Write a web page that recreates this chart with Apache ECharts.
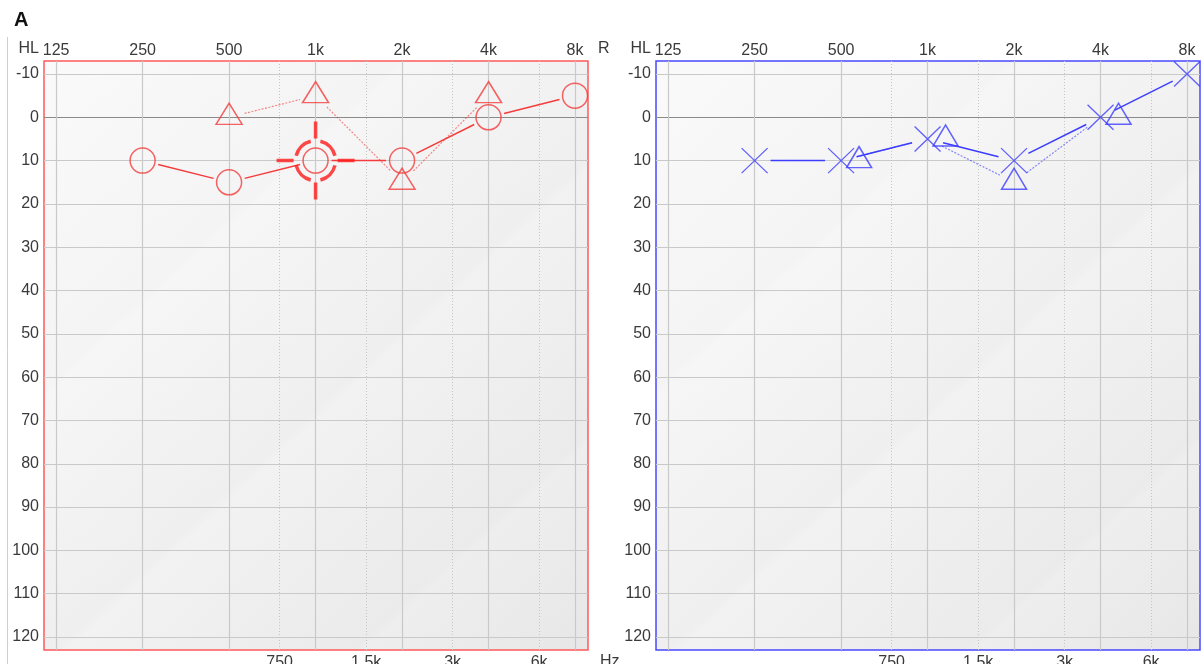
<!DOCTYPE html>
<html><head><meta charset="utf-8">
<script src="https://cdn.jsdelivr.net/npm/echarts@6/dist/echarts.min.js"></script>
<style>html,body{margin:0;padding:0;background:#fff}#c{width:1202px;height:664px}</style>
</head><body><div id="c"></div><script>
// ---------- data ----------
const octaveFreqs = [125, 250, 500, 1000, 2000, 4000, 8000];
const octaveLabels = ['125', '250', '500', '1k', '2k', '4k', '8k'];
const halfOctaveFreqs = [750, 1500, 3000, 6000];
const halfOctaveLabels = ['750', '1.5k', '3k', '6k'];
const levelTicks = [-10, 0, 10, 20, 30, 40, 50, 60, 70, 80, 90, 100, 110, 120];

// right ear (red panel)
const rightAirFreq = [250, 500, 1000, 2000, 4000, 8000];
const rightAirLevel = [10, 15, 10, 10, 0, -5];
const rightBoneFreq = [500, 1000, 2000, 4000];
const rightBoneLevel = [0, -5, 15, -5];
const rightCursorFreq = [1000];
const rightCursorLevel = [10];

// left ear (blue panel)
const leftAirFreq = [250, 500, 1000, 2000, 4000, 8000];
const leftAirLevel = [10, 10, 5, 10, 0, -10];
const leftBoneFreq = [500, 1000, 2000, 4000];
const leftBoneLevel = [10, 5, 15, 0];

// ---------- helpers ----------
const oct = f => Math.log2(f / 125);
const pts = (fs, ls) => fs.map((f, i) => [oct(f), ls[i]]);
const segs = (fs, ls) => { const p = pts(fs, ls); const out = []; for (let i = 0; i < p.length - 1; i++) out.push([p[i][0], p[i][1], p[i + 1][0], p[i + 1][1]]); return out; };

const FONT = "'Liberation Sans', Arial, sans-serif";
const RED = '#f43c3c', BLUE = '#3c3cff';
const gridColor = '#c9c9c9';

function segRenderer(color, width, dash, gap) {
  return function (params, api) {
    const p1 = api.coord([api.value(0), api.value(1)]);
    const p2 = api.coord([api.value(2), api.value(3)]);
    const dx = p2[0] - p1[0], dy = p2[1] - p1[1], L = Math.hypot(dx, dy);
    if (L <= 2 * gap) return null;
    const ux = dx / L, uy = dy / L;
    return { type: 'line', shape: { x1: p1[0] + ux * gap, y1: p1[1] + uy * gap, x2: p2[0] - ux * gap, y2: p2[1] - uy * gap },
      style: { stroke: color, lineWidth: width, lineDash: dash, fill: null } };
  };
}

function bgGradient() {
  return { type: 'linear', x: 0, y: 0, x2: 1, y2: 1, colorStops: [
    { offset: 0, color: '#fafafa' }, { offset: 0.3, color: '#f4f4f4' }, { offset: 0.31, color: '#f6f6f6' },
    { offset: 0.55, color: '#efefef' }, { offset: 0.56, color: '#f2f2f2' }, { offset: 0.8, color: '#ebebeb' },
    { offset: 0.81, color: '#eeeeee' }, { offset: 1, color: '#e7e7e7' }] };
}

const XMIN = -0.14, XMAX = 6.15, YMIN = -13, YMAX = 123;
const labelStyle = { fontFamily: FONT, fontSize: 16, color: '#3a3a3a' };
const zeroLineColors = levelTicks.map(v => v === 0 ? '#8a8a8a' : gridColor);

function topX(grid) {
  return {
    type: 'value', gridIndex: grid, position: 'top', min: XMIN, max: XMAX,
    axisLine: { show: false },
    axisTick: { show: false, customValues: octaveFreqs.map(oct) },
    axisLabel: Object.assign({ customValues: octaveFreqs.map(oct), margin: 2,
      formatter: v => octaveLabels[Math.round(v)] }, labelStyle),
    splitLine: { show: true, lineStyle: { color: gridColor, width: 1.2 } }
  };
}
function bottomX(grid) {
  return {
    type: 'value', gridIndex: grid, position: 'bottom', min: XMIN, max: XMAX,
    axisLine: { show: false },
    axisTick: { show: false, customValues: halfOctaveFreqs.map(oct) },
    axisLabel: Object.assign({ customValues: halfOctaveFreqs.map(oct), margin: 5,
      formatter: v => halfOctaveLabels[halfOctaveFreqs.map(oct).findIndex(t => Math.abs(t - v) < 1e-6)] }, labelStyle),
    splitLine: { show: true, lineStyle: { color: '#c4c4c4', width: 1, type: [1, 2] } }
  };
}
function yAx(grid) {
  return {
    type: 'value', gridIndex: grid, inverse: true, min: YMIN, max: YMAX,
    axisLine: { show: false },
    axisTick: { show: false, customValues: levelTicks },
    axisLabel: Object.assign({ customValues: levelTicks, margin: 5 }, labelStyle),
    splitLine: { show: true, lineStyle: { color: zeroLineColors, width: 1.2 } }
  };
}

const TARGET = 'path://M19.41,4.84 A20,20 0 0 1 4.84,19.41 M-4.84,19.41 A20,20 0 0 1 -19.41,4.84 M-19.41,-4.84 A20,20 0 0 1 -4.84,-19.41 M4.84,-19.41 A20,20 0 0 1 19.41,-4.84 M0,-39 L0,-22 M0,22 L0,39 M-39,0 L-22,0 M22,0 L39,0';
const XMARK = 'path://M0,0L26,25M26,0L0,25';
const clear = 'rgba(0,0,0,0)';

// shift bone marker right when it coincides with the air marker of the same frequency
function boneItems(bf, bl, af, al, shift) {
  return bf.map((f, i) => {
    const j = af.indexOf(f);
    const same = j >= 0 && al[j] === bl[i];
    return { value: [oct(f), bl[i]], symbolOffset: [same ? shift : 0, -3.5] };
  });
}

const txt = (text, x, y, align, va) => ({ type: 'text', x, y, silent: true,
  style: { text, fill: '#3a3a3a', font: '16px ' + FONT, align, verticalAlign: va } });

const option = {
  animation: false,
  backgroundColor: '#ffffff',
  title: { text: 'A', left: 9, top: 5, textStyle: { fontFamily: FONT, fontSize: 20, fontWeight: 'bold', color: '#111' } },
  graphic: [
    { type: 'line', shape: { x1: 7.5, y1: 37, x2: 7.5, y2: 664 }, style: { stroke: '#cfcfcf', lineWidth: 1 } },
    txt('HL', 39, 49, 'right', 'middle'),
    txt('HL', 651, 49, 'right', 'middle'),
    txt('R', 598, 49, 'left', 'middle'),
    txt('Hz', 600, 654, 'left', 'top')
  ],
  grid: [
    { left: 44, top: 61, width: 544, height: 589, outerBoundsMode: 'none', containLabel: false, show: true, backgroundColor: bgGradient(), borderColor: '#ff5a5a', borderWidth: 1.5 },
    { left: 656, top: 61, width: 544, height: 589, outerBoundsMode: 'none', containLabel: false, show: true, backgroundColor: bgGradient(), borderColor: '#4848ff', borderWidth: 1.5 }
  ],
  xAxis: [topX(0), bottomX(0), topX(1), bottomX(1)],
  yAxis: [yAx(0), yAx(1)],
  series: [
    { type: 'custom', xAxisIndex: 0, yAxisIndex: 0, renderItem: segRenderer(RED, 1.5, null, 16), data: segs(rightAirFreq, rightAirLevel), encode: { x: [0, 2], y: [1, 3] }, z: 2 },
    { type: 'custom', xAxisIndex: 0, yAxisIndex: 0, renderItem: segRenderer('rgba(244,60,60,0.6)', 1.2, [2, 1.5], 16), data: segs(rightBoneFreq, rightBoneLevel), encode: { x: [0, 2], y: [1, 3] }, z: 2 },
    { type: 'scatter', xAxisIndex: 0, yAxisIndex: 0, symbol: 'circle', symbolSize: 25, data: pts(rightAirFreq, rightAirLevel),
      itemStyle: { color: clear, borderColor: RED, borderWidth: 1.5 }, z: 3 },
    { type: 'scatter', xAxisIndex: 0, yAxisIndex: 0, symbol: 'triangle', symbolSize: [26, 21],
      data: boneItems(rightBoneFreq, rightBoneLevel, rightAirFreq, rightAirLevel, 18),
      itemStyle: { color: clear, borderColor: RED, borderWidth: 1.5 }, z: 3 },
    { type: 'scatter', xAxisIndex: 0, yAxisIndex: 0, symbol: TARGET, symbolSize: [78, 78], data: pts(rightCursorFreq, rightCursorLevel),
      itemStyle: { color: clear, borderColor: '#ff1a1a', borderWidth: 3.5 }, z: 4 },

    { type: 'custom', xAxisIndex: 2, yAxisIndex: 1, renderItem: segRenderer(BLUE, 1.5, null, 16), data: segs(leftAirFreq, leftAirLevel), encode: { x: [0, 2], y: [1, 3] }, z: 2 },
    { type: 'custom', xAxisIndex: 2, yAxisIndex: 1, renderItem: segRenderer('rgba(60,60,255,0.6)', 1.2, [2, 1.5], 16), data: segs(leftBoneFreq, leftBoneLevel), encode: { x: [0, 2], y: [1, 3] }, z: 2 },
    { type: 'scatter', xAxisIndex: 2, yAxisIndex: 1, symbol: XMARK, symbolSize: [26, 25], data: pts(leftAirFreq, leftAirLevel),
      itemStyle: { color: clear, borderColor: BLUE, borderWidth: 1.3 }, z: 3 },
    { type: 'scatter', xAxisIndex: 2, yAxisIndex: 1, symbol: 'triangle', symbolSize: [25, 21],
      data: boneItems(leftBoneFreq, leftBoneLevel, leftAirFreq, leftAirLevel, 18),
      itemStyle: { color: clear, borderColor: BLUE, borderWidth: 1.5 }, z: 3 }
  ]
};
const chart = echarts.init(document.getElementById('c'), null, { renderer: 'canvas' });
chart.setOption(option);
</script></body></html>
